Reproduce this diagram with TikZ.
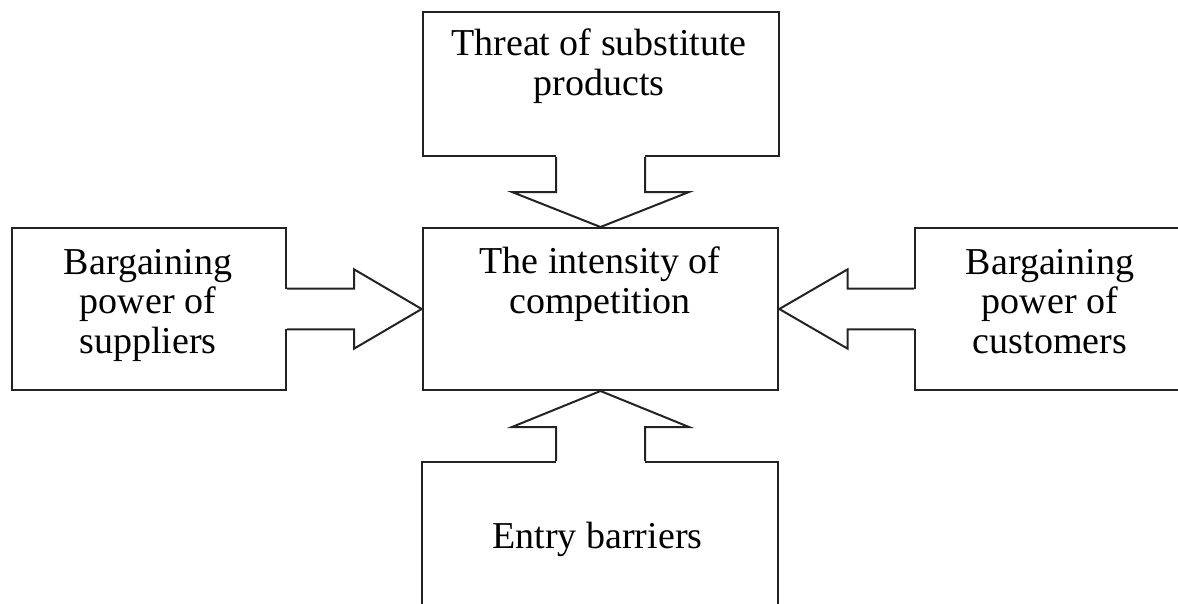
\documentclass[tikz,border=0pt]{standalone}
\usepackage{fontspec}
\setmainfont{Liberation Serif}
\usetikzlibrary{calc}
\definecolor{linecol}{RGB}{35,35,35}
\begin{document}
\begin{tikzpicture}[x=1pt,y=-1pt,
  box/.style={draw=linecol, line width=2pt, rectangle, inner sep=0pt, anchor=north west},
  arr/.style={draw=linecol, line width=2pt, line join=miter},
  lbl/.style={inner sep=0pt, align=center, font=\fontsize{38}{39.5}\selectfont, anchor=base}]
\useasboundingbox (0,0) rectangle (1178,603);
\clip (0,0) rectangle (1178,603);
% boxes
\node[box, minimum width=355.5pt, minimum height=144.3pt] (top) at (422,10.7) {};
\node[box, minimum width=355.6pt, minimum height=162pt] (ctr) at (421.7,227) {};
\node[box, minimum width=274pt, minimum height=162pt] (lft) at (11,227) {};
\node[box, minimum width=272pt, minimum height=162pt] (rgt) at (914,227) {};
\node[box, minimum width=356pt, minimum height=200pt] (bot) at (421,461) {};
% texts (anchor = baseline of last line)
\node[lbl] (toplbl) at (599,95) {Threat of substitute\\products};
\node[lbl] (ctrlbl) at (600,313) {The intensity of\\competition};
\node[lbl] (lftlbl) at (148,353) {Bargaining\\power of\\suppliers};
\node[lbl] (rgtlbl) at (1050,353) {Bargaining\\power of\\customers};
\node[lbl] (botlbl) at (597.5,548) {Entry barriers};
% top arrow
\fill[white] let \p1=(top.south), \p2=(ctr.north) in (\x2-44.5pt,\y1+3pt) rectangle (\x2+44.5pt,\y1-3pt);
\draw[arr] let \p1=(top.south), \p2=(ctr.north) in
  (\x2-44.5pt,\y1) -- (\x2-44.5pt,\y2+35pt) -- (\x2-88.5pt,\y2+35pt) -- (\p2)
  -- (\x2+88.5pt,\y2+35pt) -- (\x2+44.5pt,\y2+35pt) -- (\x2+44.5pt,\y1);
% bottom arrow
\fill[white] let \p1=(bot.north), \p2=(ctr.south) in (\x2-44.5pt,\y1+3pt) rectangle (\x2+44.5pt,\y1-3pt);
\draw[arr] let \p1=(bot.north), \p2=(ctr.south) in
  (\x2-44.5pt,\y1) -- (\x2-44.5pt,\y2-36pt) -- (\x2-88.5pt,\y2-36pt) -- (\p2)
  -- (\x2+88.5pt,\y2-36pt) -- (\x2+44.5pt,\y2-36pt) -- (\x2+44.5pt,\y1);
% left arrow
\fill[white] let \p1=(lft.east), \p2=(ctr.west) in (\x1-3pt,\y2+20.3pt) rectangle (\x1+3pt,\y2-20.3pt);
\draw[arr] let \p1=(lft.east), \p2=(ctr.west) in
  (\x1,\y2+20.3pt) -- (\x2-67.7pt,\y2+20.3pt) -- (\x2-67.7pt,\y2+39.7pt) -- (\p2)
  -- (\x2-67.7pt,\y2-39.7pt) -- (\x2-67.7pt,\y2-20.3pt) -- (\x1,\y2-20.3pt);
% right arrow
\fill[white] let \p1=(rgt.west), \p2=(ctr.east) in (\x1-3pt,\y2+20.3pt) rectangle (\x1+3pt,\y2-20.3pt);
\draw[arr] let \p1=(rgt.west), \p2=(ctr.east) in
  (\x1,\y2+20.3pt) -- (\x2+68.4pt,\y2+20.3pt) -- (\x2+68.4pt,\y2+39.7pt) -- (\p2)
  -- (\x2+68.4pt,\y2-39.7pt) -- (\x2+68.4pt,\y2-20.3pt) -- (\x1,\y2-20.3pt);
\end{tikzpicture}
\end{document}
